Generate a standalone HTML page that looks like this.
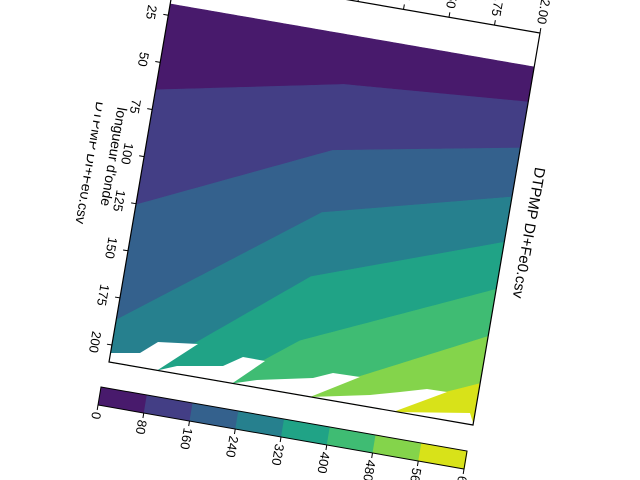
<!DOCTYPE html>
<html><head><meta charset="utf-8"><style>
html,body{margin:0;padding:0;background:#fff;width:640px;height:480px;overflow:hidden}
svg{display:block;font-family:"Liberation Sans","DejaVu Sans",sans-serif}
</style></head><body>
<svg id="chart" width="640" height="480" viewBox="0 0 640 480" xmlns="http://www.w3.org/2000/svg">
<g id="field"></g>
<g id="mask" fill="#fff">
<polygon points="109,353 140,353 158,342 198,344 157,370.5 108,362"/>
<polygon points="157,370.5 177,366 223,366 243,357 265,361 232,383.5"/>
<polygon points="232,383.5 257,380 313,378 333,373 360,377 310,397"/>
<polygon points="310,397 370,395 400,392 427,389 447,392 393,412"/>
<polygon points="393,412 470,413 474,426"/>
</g>
<g id="axes"></g>
<g id="cbar"></g>
<text x="0" y="0" font-size="15" text-anchor="middle" transform="translate(524,232) rotate(99.8)">DTPMP DI+Fe0.csv</text>
<g font-size="14" text-anchor="middle">
<text transform="translate(109,156) rotate(99.8)">longueur d'onde</text>
<clipPath id="lbl2clip"><polygon points="88,95 104,95 82,230 66,230"/></clipPath>
<g clip-path="url(#lbl2clip)">
<text transform="translate(86,162) rotate(99.8)">DTPMP DI+Fe0.csv</text>
</g>
</g>
</svg>
<script>
// ---- data ----
const xGrid = [0, 1, 2];
const levels = [0, 80, 160, 240, 320, 400, 480, 560, 640];
// y position of each contour level (80..560) at x = 0, 1, 2
const contourY0 = [64.6, 125.6, 186.7, 227, 257, 300, 340];
const contourY1 = [45, 80, 113, 147, 181, 211.5, 230];
const contourY2 = [37.6, 62, 88, 112, 137, 162, 187];
const dataYMin = 19, dataYMax = 209;
const bandColors = ["#481a6c","#433e85","#34618d","#26808e","#20a386","#3fbc73","#84d44b","#d8e219"];
const yTicks = [25, 50, 75, 100, 125, 150, 175, 200];
const xTicks = [0, 0.25, 0.5, 0.75, 1, 1.25, 1.5, 1.75, 2];
const xTickLabels = ["0.00","0.25","0.50","0.75","1.00","1.25","1.50","1.75","2.00"];
const cbarLabels = ["0","80","160","240","320","400","480","560","640"];

// ---- geometry ----
const NS = "http://www.w3.org/2000/svg";
const X0 = 0, X1 = 2, Y0 = 1, Y1 = 209;
const O = [176, -30], EU = [364, 63], ET = [-67, 392];
function P(u, t){ return [O[0] + EU[0]*u + ET[0]*t, O[1] + EU[1]*u + ET[1]*t]; }
function ux(x){ return (x - X0)/(X1 - X0); }
function ty(y){ return (y - Y0)/(Y1 - Y0); }
const cols = [contourY0, contourY1, contourY2];
function levelY(k, x){
  let j = 0;
  while (j < xGrid.length-2 && x > xGrid[j+1]) j++;
  const f = (x - xGrid[j])/(xGrid[j+1]-xGrid[j]);
  return cols[j][k]*(1-f) + cols[j+1][k]*f;
}
function mk(tag, attrs, parent){
  const e = document.createElementNS(NS, tag);
  for (const k in attrs) e.setAttribute(k, attrs[k]);
  parent.appendChild(e); return e;
}

// ---- contour field: one polygon per band ----
const field = document.getElementById('field');
const NX = 80;
function boundary(k){
  const pts = [];
  for (let i = 0; i <= NX; i++){
    const x = X0 + i/NX*(X1-X0);
    let y = k < 0 ? dataYMin : (k >= contourY0.length ? dataYMax : levelY(k, x));
    y = Math.max(dataYMin, Math.min(dataYMax, y));
    pts.push([x, y]);
  }
  return pts;
}
for (let b = 0; b < bandColors.length; b++){
  const top = boundary(b-1), bot = boundary(b).reverse();
  const pts = top.concat(bot).map(([x,y]) => P(ux(x), ty(y)));
  const pg = mk('polygon', {points: pts.map(p=>p[0].toFixed(2)+','+p[1].toFixed(2)).join(' '), fill: bandColors[b], stroke: bandColors[b], 'stroke-width':0.6}, field);
  
  
}

// ---- axes ----
const axes = document.getElementById('axes');
const c = [P(0,0), P(1,0), P(1,1), P(0,1)];
const frame = mk('polygon', {points: c.map(p=>p.join(',')).join(' '), fill:'none', stroke:'#000', 'stroke-width':1.2}, axes);


const outL = [-0.986, -0.171], outT = [0.168, -0.985];
yTicks.forEach((v) => {
  const p = P(0, ty(v));
  const tk = mk('line', {x1:p[0], y1:p[1], x2:p[0]+outL[0]*5, y2:p[1]+outL[1]*5, stroke:'#000', 'stroke-width':1}, axes);
  
  
  const lx = p[0] + outL[0]*17, ly = p[1] + outL[1]*17;
  const tx = mk('text', {x:0, y:0, 'font-size':13, 'text-anchor':'middle', transform:`translate(${lx},${ly}) rotate(99.8)`, 'dominant-baseline':'central'}, axes);
  tx.textContent = v;
  
  
});
xTicks.forEach((v, i) => {
  const p = P(ux(v), 0);
  const tk = mk('line', {x1:p[0], y1:p[1], x2:p[0]+outT[0]*5, y2:p[1]+outT[1]*5, stroke:'#000', 'stroke-width':1}, axes);
  
  
  const lx = p[0] + outT[0]*9, ly = p[1] + outT[1]*9;
  const tx = mk('text', {x:0, y:0, 'font-size':13, 'text-anchor':'end', transform:`translate(${lx},${ly}) rotate(99.8)`, 'dominant-baseline':'central'}, axes);
  tx.textContent = xTickLabels[i];
  
  
});

// ---- colorbar ----
const cb = document.getElementById('cbar');
const CO = [101, 387], CU = [366, 64], CR = [-3, 18];
function C(s, r){ return [CO[0]+CU[0]*s+CR[0]*r, CO[1]+CU[1]*s+CR[1]*r]; }
const nb = bandColors.length;
bandColors.forEach((col, k) => {
  const s0 = (levels[k]-levels[0])/(levels[nb]-levels[0]), s1 = (levels[k+1]-levels[0])/(levels[nb]-levels[0]);
  const pts = [C(s0,0), C(s1+0.002,0), C(s1+0.002,1), C(s0,1)];
  const pg = mk('polygon', {points: pts.map(p=>p.join(',')).join(' '), fill: col}, cb);
  
  
});
const cf = mk('polygon', {points: [C(0,0),C(1,0),C(1,1),C(0,1)].map(p=>p.join(',')).join(' '), fill:'none', stroke:'#000', 'stroke-width':1}, cb);


cbarLabels.forEach((lab, k) => {
  const s = (levels[k]-levels[0])/(levels[nb]-levels[0]);
  const p = C(s, 1);
  const tk = mk('line', {x1:p[0], y1:p[1], x2:p[0]-0.8, y2:p[1]+5, stroke:'#000', 'stroke-width':1}, cb);
  
  
  const tx = mk('text', {x:0, y:0, 'font-size':13, 'text-anchor':'start', transform:`translate(${p[0]-1.2},${p[1]+7}) rotate(99.8)`, 'dominant-baseline':'central'}, cb);
  tx.textContent = lab;
  
  
});
</script>
</body></html>
